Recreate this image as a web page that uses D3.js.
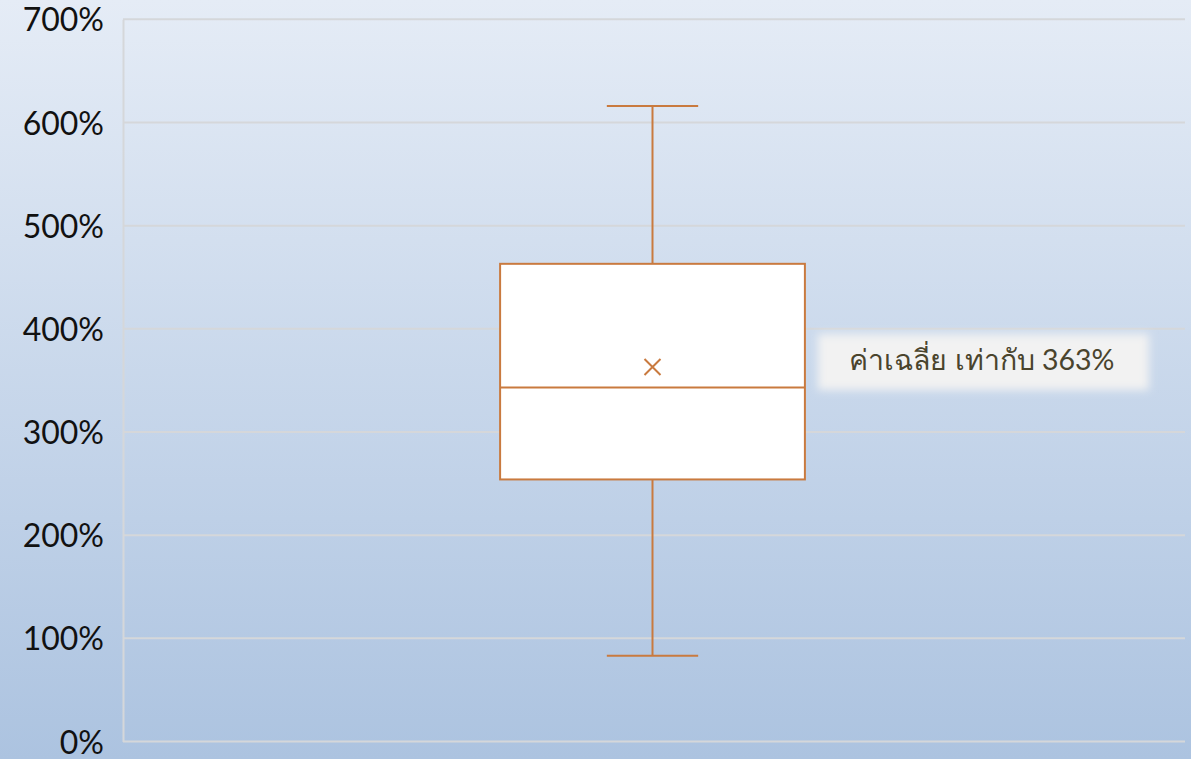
<!DOCTYPE html>
<html>
<head>
<meta charset="utf-8">
<script src="https://cdn.jsdelivr.net/npm/d3@7"></script>
<style>
  html, body { margin: 0; padding: 0; }
  body { width: 1191px; height: 759px; overflow: hidden; }
</style>
</head>
<body>
<div id="chart"></div>
<script>
const categories = [''];
const yTicks = [0, 100, 200, 300, 400, 500, 600, 700];
const boxStats = [{ min: 83, q1: 254, median: 343, q3: 463, max: 616, mean: 363 }];
const meanLabel = 'ค่าเฉลี่ย เท่ากับ 363%';

const width = 1191;
const height = 759;
const margin = { left: 123, right: 6, top: 19.3, bottom: 17.5 };
const boxColor = '#c97a3f';

var svg = d3.select('#chart')
  .append('svg')
  .attr('width', width)
  .attr('height', height);

var defs = svg.append('defs');

// background gradient
var grad = defs.append('linearGradient')
  .attr('id', 'bg')
  .attr('x1', 0).attr('y1', 0).attr('x2', 0).attr('y2', 1);
grad.append('stop').attr('offset', '0%').attr('stop-color', '#e5ecf6');
grad.append('stop').attr('offset', '100%').attr('stop-color', '#acc3e0');

// soft edge for the label box
defs.append('filter')
  .attr('id', 'soft')
  .attr('x', '-10%').attr('y', '-50%').attr('width', '120%').attr('height', '200%')
  .append('feGaussianBlur')
  .attr('stdDeviation', 4);

svg.append('rect')
  .attr('width', width)
  .attr('height', height)
  .attr('fill', 'url(#bg)');

// Scales
var scaleX = d3.scaleBand()
  .domain(categories)
  .range([margin.left, width - margin.right])
  .padding(0);

var scaleY = d3.scaleLinear()
  .domain([0, 700])
  .range([height - margin.bottom, margin.top]);

// gridlines
svg.append('g')
  .selectAll('line')
  .data(yTicks)
  .enter()
  .append('line')
  .attr('x1', margin.left)
  .attr('x2', width - margin.right)
  .attr('y1', function (d) { return scaleY(d); })
  .attr('y2', function (d) { return scaleY(d); })
  .attr('stroke', '#d5d7da')
  .attr('stroke-width', 2);

// Axis
var axisY = d3.axisLeft()
  .scale(scaleY)
  .tickValues(yTicks)
  .tickSize(0)
  .tickPadding(19)
  .tickFormat(function (d) { return d + '%'; });

var gAxis = svg.append('g')
  .attr('transform', 'translate(' + margin.left + ',0)')
  .call(axisY);

gAxis.select('.domain')
  .attr('stroke', '#d5d7da')
  .attr('stroke-width', 2);

gAxis.selectAll('text')
  .attr('font-family', 'Lato, "Open Sans", sans-serif')
  .attr('font-size', '32px')
  .attr('fill', '#111')
  .attr('dy', '0.36em');

// Box plot
var group = svg.append('g');

var boxes = group.selectAll('g.box')
  .data(boxStats)
  .enter()
  .append('g')
  .attr('class', 'box');

function cx(d, i) { return scaleX(categories[i]) + scaleX.bandwidth() / 2 - 1.5; }
var boxW = scaleX.bandwidth() * 0.287;
var capW = scaleX.bandwidth() * 0.086;

// whiskers
boxes.append('line')
  .attr('x1', cx).attr('x2', cx)
  .attr('y1', function (d) { return scaleY(d.max); })
  .attr('y2', function (d) { return scaleY(d.q3); })
  .attr('stroke', boxColor).attr('stroke-width', 2);
boxes.append('line')
  .attr('x1', cx).attr('x2', cx)
  .attr('y1', function (d) { return scaleY(d.q1); })
  .attr('y2', function (d) { return scaleY(d.min); })
  .attr('stroke', boxColor).attr('stroke-width', 2);

['max', 'min'].forEach(function (k) {
  boxes.append('line')
    .attr('x1', function (d, i) { return cx(d, i) - capW / 2; })
    .attr('x2', function (d, i) { return cx(d, i) + capW / 2; })
    .attr('y1', function (d) { return scaleY(d[k]); })
    .attr('y2', function (d) { return scaleY(d[k]); })
    .attr('stroke', boxColor).attr('stroke-width', 2);
});

// box
boxes.append('rect')
  .attr('x', function (d, i) { return cx(d, i) - boxW / 2; })
  .attr('y', function (d) { return scaleY(d.q3); })
  .attr('width', boxW)
  .attr('height', function (d) { return scaleY(d.q1) - scaleY(d.q3); })
  .attr('fill', '#ffffff')
  .attr('stroke', boxColor)
  .attr('stroke-width', 2);

// median
boxes.append('line')
  .attr('x1', function (d, i) { return cx(d, i) - boxW / 2; })
  .attr('x2', function (d, i) { return cx(d, i) + boxW / 2; })
  .attr('y1', function (d) { return scaleY(d.median); })
  .attr('y2', function (d) { return scaleY(d.median); })
  .attr('stroke', boxColor).attr('stroke-width', 2);

// mean marker (x)
boxes.append('path')
  .attr('d', function (d, i) {
    var x = cx(d, i), y = scaleY(d.mean), s = 8;
    return 'M' + (x - s) + ',' + (y - s) + 'L' + (x + s) + ',' + (y + s) +
      'M' + (x - s) + ',' + (y + s) + 'L' + (x + s) + ',' + (y - s);
  })
  .attr('stroke', boxColor)
  .attr('stroke-width', 2)
  .attr('fill', 'none');

// mean label
var lx = cx(boxStats[0], 0) + boxW / 2 + 13;
var ly = scaleY(boxStats[0].mean) - 33;
svg.append('rect')
  .attr('x', lx)
  .attr('y', ly)
  .attr('width', 331)
  .attr('height', 56)
  .attr('fill', '#f2f2f2')
  .attr('filter', 'url(#soft)');

svg.append('text')
  .attr('x', lx + 164)
  .attr('y', ly + 26)
  .attr('dy', '0.35em')
  .attr('text-anchor', 'middle')
  .attr('font-family', 'Lato, "Noto Sans", sans-serif')
  .attr('font-size', '28.5px')
  .attr('fill', '#4a442d')
  .text(meanLabel);
</script>
</body>
</html>
